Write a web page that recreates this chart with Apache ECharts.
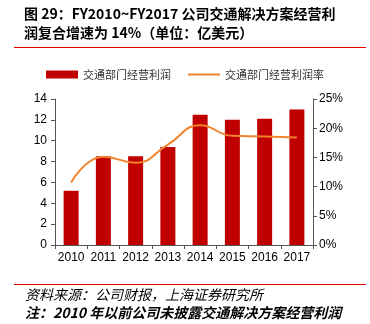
<!DOCTYPE html>
<html><head><meta charset="utf-8">
<script src="https://cdn.jsdelivr.net/npm/echarts@6/dist/echarts.min.js"></script>
<style>html,body{margin:0;padding:0;background:#fff}#c{width:370px;height:324px}</style>
</head><body><div id="c"></div>
<script>
const categories = ['2010','2011','2012','2013','2014','2015','2016','2017'];
const profit = [5.2, 8.5, 8.5, 9.4, 12.5, 12.0, 12.1, 13.0];
const margin = [10.7, 15.1, 14.1, 17.2, 20.5, 18.7, 18.6, 18.4];
const leftTicks = {min: 0, max: 14, interval: 2};
const rightTicks = {min: 0, max: 25, interval: 5};
const titleLines = ['图 29：FY2010~FY2017 公司交通解决方案经营利', '润复合增速为 14%（单位：亿美元）'];
const footLines = ['资料来源：公司财报，上海证券研究所', '注：2010 年以前公司未披露交通解决方案经营利润'];
const seriesNames = ['交通部门经营利润', '交通部门经营利润率'];

const chart = echarts.init(document.getElementById('c'), null, {renderer: 'canvas'});
const font = '"Noto Sans CJK SC", "Liberation Sans", sans-serif';
chart.setOption({
  animation: false,
  textStyle: {fontFamily: font},
  title: {
    text: titleLines.join('\n'),
    left: 24, top: 4, padding: 0,
    textStyle: {fontSize: 14, fontWeight: 'bold', color: '#000', lineHeight: 19, fontFamily: font}
  },
  graphic: [
    {type: 'line', shape: {x1: 14, y1: 47.5, x2: 366, y2: 47.5}, style: {stroke: '#e00000', lineWidth: 1}},
    {type: 'line', shape: {x1: 14, y1: 284.5, x2: 366, y2: 284.5}, style: {stroke: '#e00000', lineWidth: 1}},
    {type: 'text', x: 25, y: 295, style: {text: footLines[0], font: 'italic 14px ' + font, fill: '#000', verticalAlign: 'middle', textVerticalAlign: 'middle'}},
    {type: 'text', x: 25, y: 313, style: {text: footLines[1], font: 'italic bold 14px ' + font, fill: '#000', verticalAlign: 'middle', textVerticalAlign: 'middle'}}
  ],
  legend: {
    top: 64, left: 'center',
    itemGap: 16,
    itemWidth: 32, itemHeight: 8,
    textStyle: {fontSize: 11, color: '#333', fontFamily: font},
    data: [
      {name: seriesNames[0], icon: 'rect'},
      {name: seriesNames[1], itemStyle: {opacity: 0}}
    ]
  },
  grid: {left: 55, right: 57, top: 99, bottom: 79, containLabel: false},
  xAxis: {
    type: 'category', data: categories, boundaryGap: true,
    axisLine: {lineStyle: {color: '#555'}},
    axisTick: {show: true, alignWithLabel: false, length: 4, lineStyle: {color: '#555'}},
    axisLabel: {color: '#000', fontSize: 12, interval: 0, fontFamily: '"Liberation Sans", sans-serif', margin: 7}
  },
  yAxis: [
    {
      type: 'value', min: leftTicks.min, max: leftTicks.max, interval: leftTicks.interval,
      axisLine: {show: true, lineStyle: {color: '#555'}},
      axisTick: {show: true, length: 4, lineStyle: {color: '#555'}},
      splitLine: {show: false},
      axisLabel: {color: '#000', fontSize: 12, fontFamily: '"Liberation Sans", sans-serif', margin: 8}
    },
    {
      type: 'value', min: rightTicks.min, max: rightTicks.max, interval: rightTicks.interval,
      position: 'right',
      axisLine: {show: true, lineStyle: {color: '#555'}},
      axisTick: {show: true, length: 4, lineStyle: {color: '#555'}},
      splitLine: {show: false},
      axisLabel: {color: '#000', fontSize: 12, fontFamily: '"Liberation Sans", sans-serif', margin: 6, formatter: '{value}%'}
    }
  ],
  series: [
    {
      name: seriesNames[0], type: 'bar', data: profit, yAxisIndex: 0,
      barWidth: 15,
      itemStyle: {color: '#c00000'}
    },
    {
      name: seriesNames[1], type: 'line', data: margin, yAxisIndex: 1,
      smooth: 0.5, symbol: 'none',
      lineStyle: {color: '#f0832d', width: 2},
      itemStyle: {color: '#f0832d'}
    }
  ]
});
</script></body></html>
